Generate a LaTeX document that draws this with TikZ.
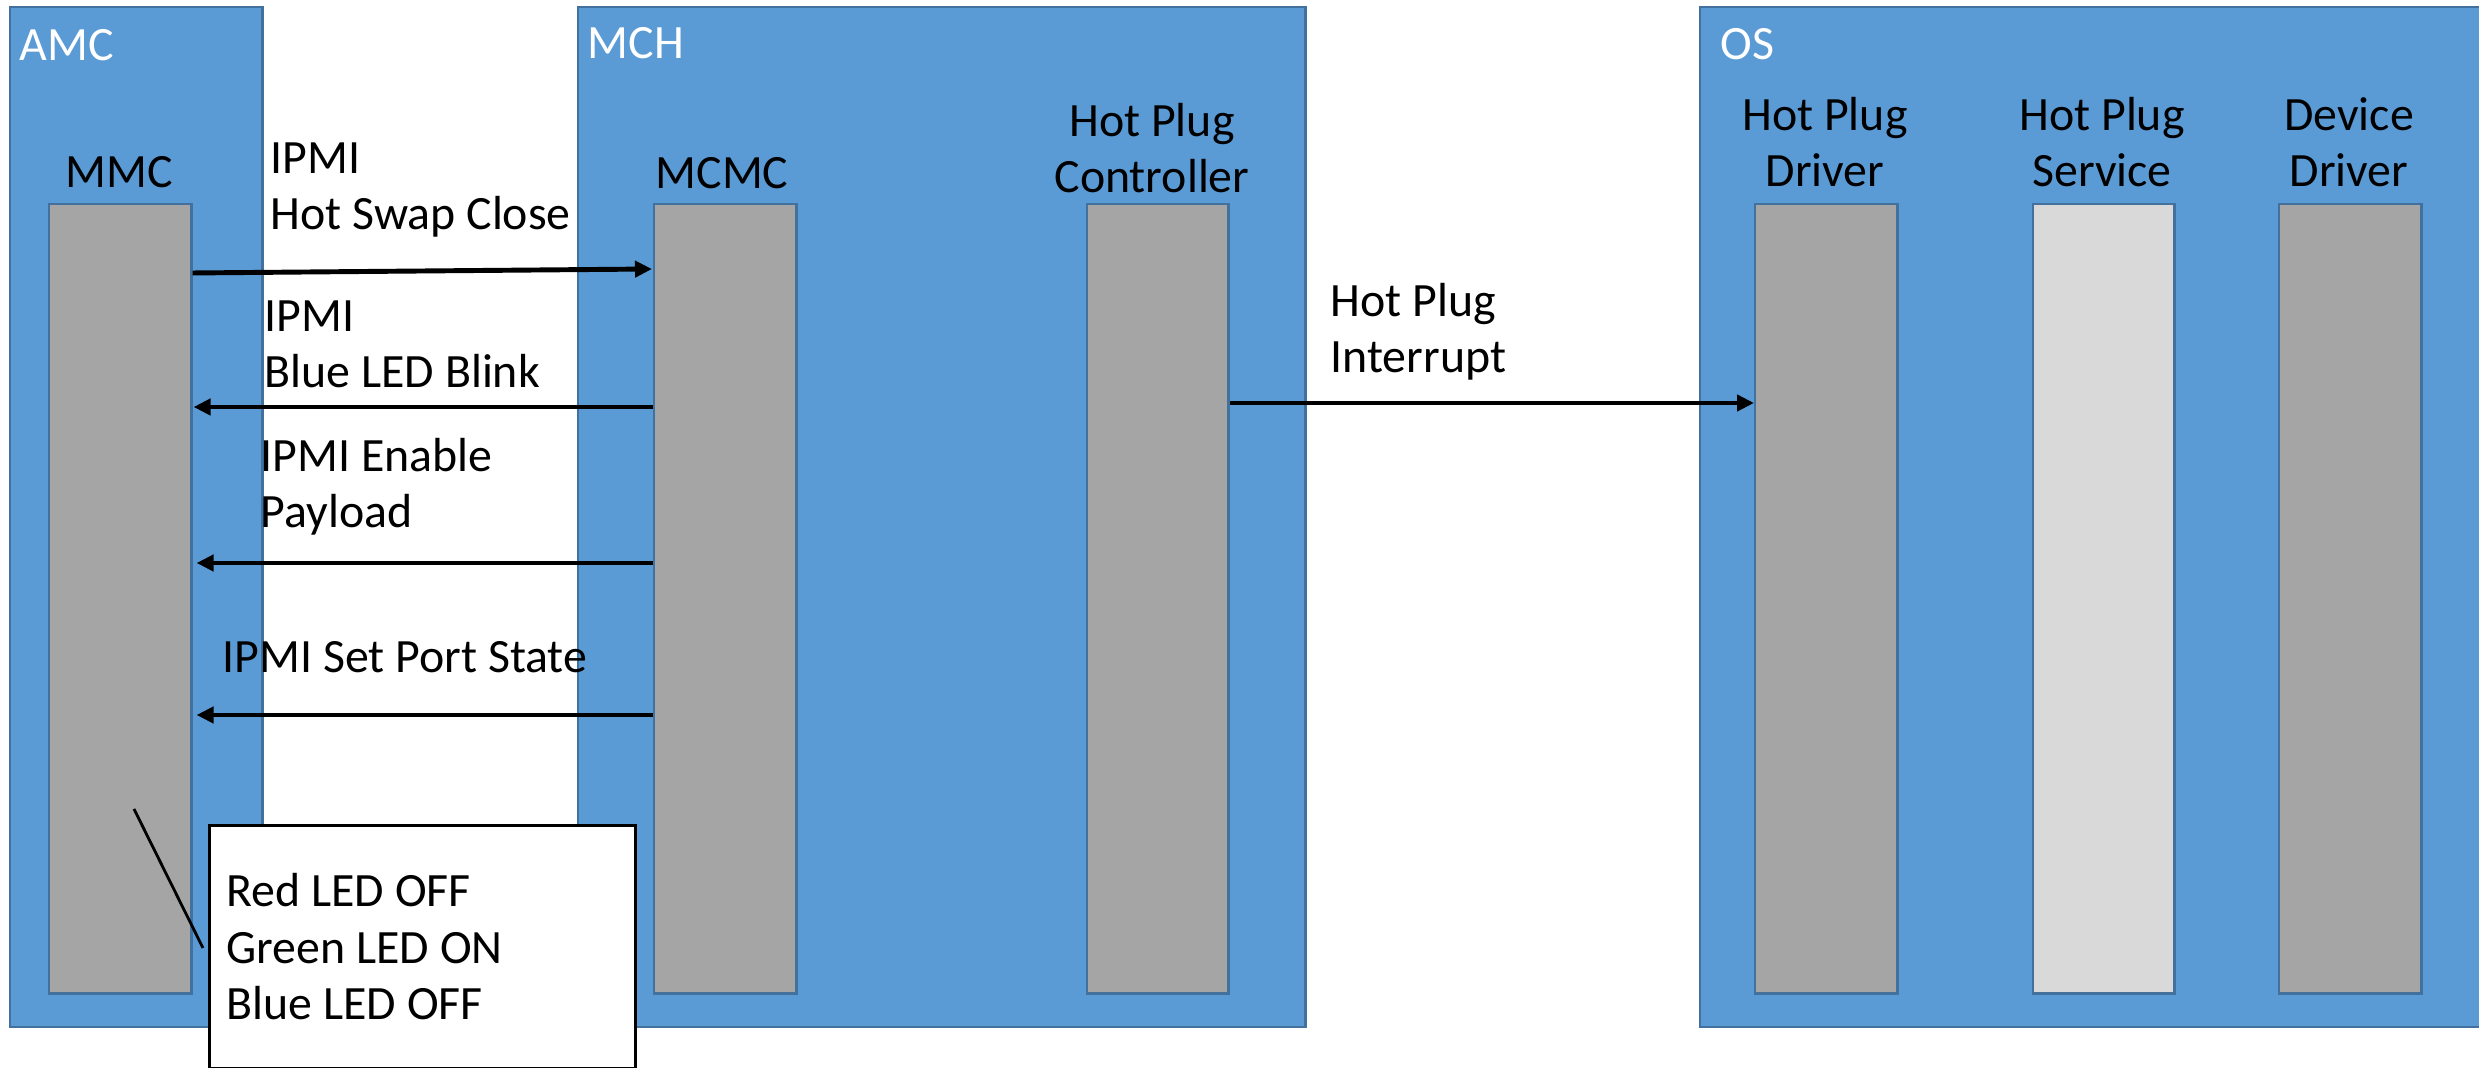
\documentclass[tikz,border=0pt]{standalone}
\usepackage{fontspec}
\setmainfont{Carlito}
\usetikzlibrary{arrows.meta}
\definecolor{boxblue}{HTML}{5B9BD5}
\definecolor{boxedge}{HTML}{41719C}
\definecolor{midgray}{HTML}{A5A5A5}
\definecolor{palegray}{HTML}{D9D9D9}
\begin{document}
\begin{tikzpicture}[x=0.01cm,y=-0.01cm,
  font=\fontsize{13.6pt}{16.2pt}\selectfont,
  container/.style={draw=boxedge, fill=boxblue, line width=0.7pt, anchor=north west, inner sep=0pt, minimum height=10.19cm},
  unit/.style={draw=boxedge, fill=midgray, line width=0.7pt, anchor=north west, inner sep=0pt, minimum width=1.42cm, minimum height=7.89cm},
  lbl/.style={inner sep=0pt, anchor=base west, align=left},
  clbl/.style={inner sep=0pt, anchor=base, align=center},
  ttl/.style={inner sep=0pt, anchor=base west, text=white},
  arr/.style={line width=1.4pt, -{Triangle[length=0.17cm,width=0.16cm]}}]
\clip (0,0) rectangle (2479,1068);
\fill[white] (0,0) rectangle (2479,1068);
% containers
\node[container, minimum width=2.52cm] (amc) at (9,6) {};
\node[container, minimum width=7.27cm] (mch) at (577,6) {};
\node[container, minimum width=8.2cm] (os) at (1699,6) {};
\node[ttl] (amct) at (19,61) {AMC};
\node[ttl] (mcht) at (587,59) {MCH};
\node[ttl] (ost) at (1720,60) {OS};
% units
\node[unit] (mmc) at (48,203) {};
\node[unit] (mcmc) at (653,203) {};
\node[unit, minimum width=1.41cm] (hpc) at (1086,203) {};
\node[unit] (hpd) at (1754,203) {};
\node[unit, fill=palegray, minimum width=1.41cm] (hps) at (2032,203) {};
\node[unit] (dd) at (2278,203) {};
% unit labels (base = last line baseline)
\node[clbl] (mmct) at (119,188) {MMC};
\node[clbl] (mcmct) at (722,189) {MCMC};
\node[clbl] (hpct) at (1152,193) {Hot Plug\\Controller};
\node[clbl] (hpdt) at (1825,187) {Hot Plug\\Driver};
\node[clbl] (hpst) at (2102,187) {Hot Plug\\Service};
\node[clbl] (ddt) at (2349,187) {Device\\Driver};
% arrows
\draw[arr] (mmc.east |- 0,273) -- ([xshift=-0.01cm]mcmc.west |- 0,269);
\draw[arr] (mcmc.west |- 0,407) -- ([xshift=0.01cm]mmc.east |- 0,407);
\draw[arr] (mcmc.west |- 0,563) -- ([xshift=0.04cm]mmc.east |- 0,563);
\draw[arr] (mcmc.west |- 0,715) -- ([xshift=0.04cm]mmc.east |- 0,715);
\draw[arr] (hpc.east |- 0,403) -- (hpd.west |- 0,403);
% arrow labels
\node[lbl] (l1) at (270,230) {IPMI\\Hot Swap Close};
\node[lbl] (l2) at (264,388) {IPMI\\Blue LED Blink};
\node[lbl] (l3) at (260,528) {IPMI Enable\\Payload};
\node[lbl] (l4) at (222,673) {IPMI Set Port State};
\node[lbl] (l5) at (1330,373) {Hot Plug\\Interrupt};
% callout
\node[draw=black, fill=white, line width=0.8pt, anchor=north west, inner sep=0pt, minimum width=4.26cm, minimum height=2.43cm] (note) at (208,824) {};
\node[lbl] (notet) at (226,1020) {Red LED OFF\\Green LED ON\\Blue LED OFF};
\coordinate (ptr) at (134,809);
\draw[line width=0.8pt] (ptr) -- ([xshift=-0.05cm]note.west |- 0,948);
\end{tikzpicture}
\end{document}
